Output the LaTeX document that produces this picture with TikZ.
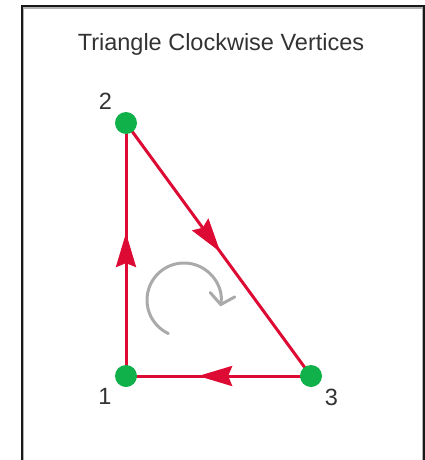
\documentclass[tikz,border=0pt]{standalone}
\usepackage{fontspec}
\setmainfont{Liberation Sans}
\usetikzlibrary{arrows.meta,decorations.markings,backgrounds}
\definecolor{edgered}{RGB}{221,10,52}
\definecolor{dotgreen}{RGB}{16,176,74}
\definecolor{arcgray}{RGB}{170,170,170}
\tikzset{
  vdot/.style={circle,fill=dotgreen,minimum size=22pt,inner sep=0pt,outer sep=0pt},
  vlabel/.style={font=\fontsize{23.5}{26}\selectfont,text=black!80,inner sep=0pt},
  edge/.style={draw=edgered,line width=3pt},
  midarrow/.style={postaction={decorate},decoration={markings,
     mark=at position #1 with {\arrow{Stealth[length=34pt,width=20pt,inset=4pt,fill=edgered,color=edgered]}}}},
}
\begin{document}
\begin{tikzpicture}[x=1pt,y=1pt]
\useasboundingbox (0,0) rectangle (425,-460);
% frame
\draw[line width=2pt,black!90] (21.7,-460) -- (21.7,-6.5) -- (423.8,-6.5) -- (423.8,-460);
\draw[line width=1.3pt,black!30] (23.4,-460) -- (23.4,-8.1) -- (422.2,-8.1) -- (422.2,-460);
% title
\node[vlabel] (title) at (221,-44.5) {Triangle Clockwise Vertices};
% vertices
\node[vdot] (v2) at (126,-123) {};
\node[vdot] (v1) at (126,-376) {};
\node[vdot] (v3) at (311,-376) {};
\node[vlabel] (l2) at (105.5,-101.5) {2};
\node[vlabel] (l1) at (105,-396.5) {1};
\node[vlabel] (l3) at (331.5,-397) {3};
% edges
\begin{scope}[on background layer]
\path[edge,midarrow=0.565] (v1.center) -- (v2.center);
\path[edge,midarrow=0.51] (v2.center) -- (v3.center);
\path[edge,midarrow=0.61] (v3.center) -- (v1.center);
\end{scope}
% rotation arrow
\coordinate (rc) at (184,-300);
\draw[arcgray,line width=3pt,line cap=round,-{Straight Barb[length=10pt,width=25pt,line cap=round]}]
  ([shift={(245:37)}]rc) arc[start angle=245,end angle=-10,radius=37];
\end{tikzpicture}
\end{document}
